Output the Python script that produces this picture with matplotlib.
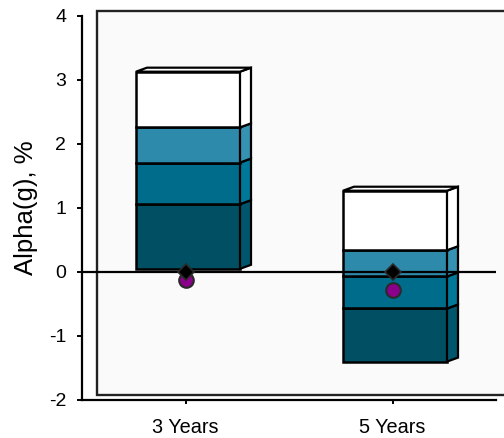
import matplotlib
matplotlib.use('Agg')
import matplotlib.pyplot as plt
from matplotlib.patches import Polygon, Rectangle

categories = ['3 Years', '5 Years']
seg_bottom = [0.05, -1.40]
seg_1 = [1.01, 0.83]
seg_2 = [0.65, 0.50]
seg_3 = [0.55, 0.41]
seg_4 = [0.87, 0.93]
diamond_vals = [0.0, 0.0]
circle_vals = [-0.13, -0.28]
seg_colors = ['#004f63', '#006c8c', '#2e8aab', '#ffffff']
side_colors = ['#00566c', '#00789a', '#3592b3', '#ffffff']

W, H = 504, 438
plt.rcParams['font.family'] = ['Liberation Sans', 'DejaVu Sans']
plt.rcParams['axes.unicode_minus'] = False

fig = plt.figure(figsize=(W / 100, H / 100), dpi=100)
ax = fig.add_axes([82 / W, 1 - 400 / H, 414 / W, 384 / H])
ax.set_xlim(-0.5, 1.5)
ax.set_ylim(-2, 4)
ax.patch.set_visible(False)

# back wall of the 3d chart, sticks out past the axes
fig.add_artist(Rectangle((97 / W, 1 - 395 / H), 420 / W, 384 / H,
                         transform=fig.transFigure, fc='#fafafa',
                         ec='#222222', lw=1.7, zorder=0))

# depth of the bars in data units, front faces sit a bit right of the tick
dx = 11 / 207
dy = 4 / 64
bar_w = 104 / 207
shift = 2.5 / 207

for i in range(len(categories)):
    start = seg_bottom[i]
    xc = i + shift
    x1 = xc + bar_w / 2
    for k, seg in enumerate([seg_1, seg_2, seg_3, seg_4]):
        end = start + seg[i]
        ax.bar(xc, seg[i], bar_w, bottom=start, color=seg_colors[k],
               edgecolor='black', linewidth=1.8, zorder=2 + k * 0.1)
        ax.add_patch(Polygon([(x1, start), (x1 + dx, start + dy),
                              (x1 + dx, end + dy), (x1, end)],
                             fc=side_colors[k], ec='black', lw=1.6,
                             zorder=2 + k * 0.1))
        start = end
    x0 = xc - bar_w / 2
    ax.add_patch(Polygon([(x0, start), (x0 + dx, start + dy),
                          (x1 + dx, start + dy), (x1, start)],
                         fc='white', ec='black', lw=1.6, zorder=3))

ax.axhline(0, color='black', lw=1.6, zorder=4)
ax.plot(range(2), circle_vals, ls='none', marker='o', ms=10.5, mfc='#8b008b',
        mec='#2a2a2a', mew=1.5, zorder=5)
ax.plot(range(2), diamond_vals, ls='none', marker='D', ms=8.5, mfc='black',
        mec='#2a2a2a', mew=1.2, zorder=6)

for s in ['top', 'right']:
    ax.spines[s].set_visible(False)
for s in ['left', 'bottom']:
    ax.spines[s].set_linewidth(1.6)
ax.set_xticks(range(2))
ax.set_xticklabels(categories, fontsize=14.3)
ax.set_yticks(range(-2, 5))
ax.tick_params(axis='y', labelsize=14, width=1.4, length=3.5, pad=8)
ax.tick_params(axis='x', width=1.4, length=3, pad=10)
fig.text(26 / W, 1 - 208 / H, 'Alpha(g), %', rotation=90, fontsize=18.5,
         ha='center', va='center')

fig.savefig('out.png', dpi=100)
